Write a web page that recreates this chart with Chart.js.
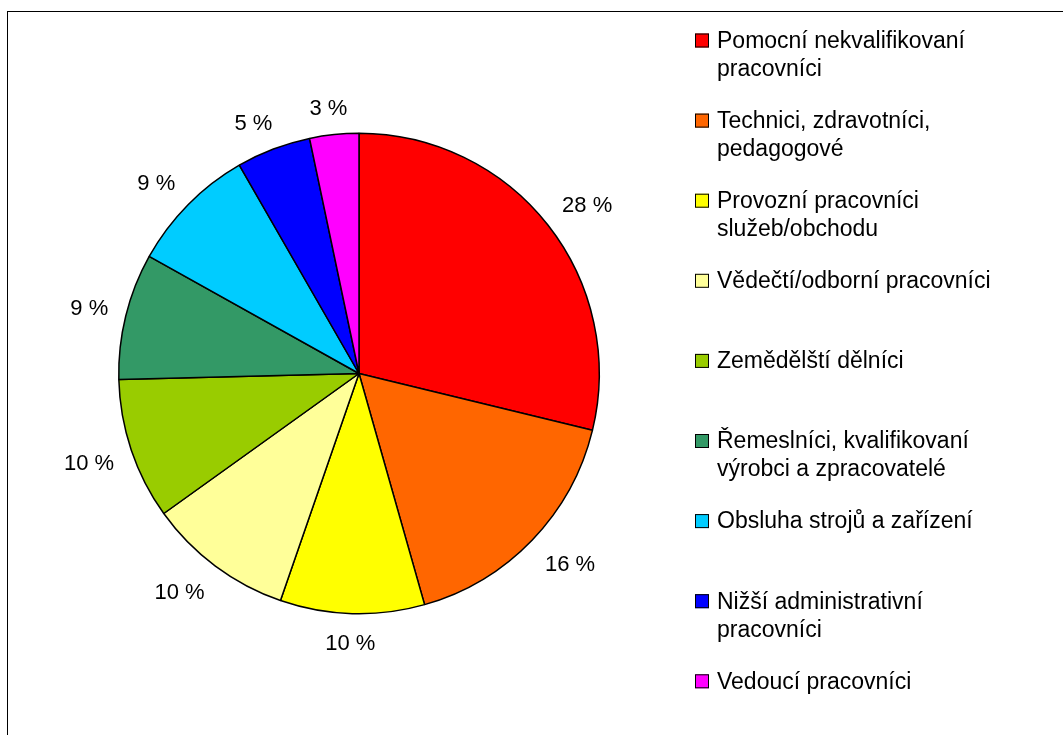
<!DOCTYPE html>
<html>
<head>
<meta charset="utf-8">
<title>Pracovníci</title>
<script src="https://cdn.jsdelivr.net/npm/chart.js@4.4.0/dist/chart.umd.min.js"></script>
<style>
	body{margin:0;background:#fff;}
	#wrap{width:1063px;height:735px;position:relative;}
</style>
</head>
<body>
<div id="wrap"><canvas id="chart"></canvas></div>
<script>
// kategorie (řádky legendy)
const categories = [
	['Pomocní nekvalifikovaní', 'pracovníci'],
	['Technici, zdravotníci,', 'pedagogové'],
	['Provozní pracovníci', 'služeb/obchodu'],
	['Vědečtí/odborní pracovníci'],
	['Zemědělští dělníci'],
	['Řemeslníci, kvalifikovaní', 'výrobci a zpracovatelé'],
	['Obsluha strojů a zařízení'],
	['Nižší administrativní', 'pracovníci'],
	['Vedoucí pracovníci']
];
// podíly odečtené z úhlů výsečí
const shares = [28.8, 16.8, 9.7, 9.8, 9.5, 8.5, 8.6, 5.0, 3.3];
// popisky tak, jak jsou v grafu
const percentLabels = [28, 16, 10, 10, 10, 9, 9, 5, 3];

const colors = ['#ff0000','#ff6600','#ffff00','#ffff99','#99cc00','#339966','#00ccff','#0000ff','#ff00ff'];
const FONT = '"Liberation Sans", Arial, sans-serif';

function clamp(v){
	return Math.max(-1, Math.min(1, v));
}

const framePlugin = {
	id:'frame',
	beforeDraw:function(chart){
		let ctx = chart.ctx;
		ctx.save();
		ctx.fillStyle = '#fff';
		ctx.fillRect(0, 0, chart.width, chart.height);
		ctx.strokeStyle = '#000';
		ctx.lineWidth = 1;
		ctx.strokeRect(7.5, 11.5, chart.width + 20, chart.height + 20);
		ctx.restore();
	}
};

const percentPlugin = {
	id:'percents',
	afterDatasetsDraw:function(chart){
		let ctx = chart.ctx;
		let meta = chart.getDatasetMeta(0);
		ctx.save();
		ctx.font = '22px ' + FONT;
		ctx.fillStyle = '#000';
		ctx.textAlign = 'center';
		ctx.textBaseline = 'middle';
		meta.data.forEach(function(arc, i){
			let mid = (arc.startAngle + arc.endAngle) / 2;
			let ux = Math.cos(mid), uy = Math.sin(mid);
			let text = percentLabels[i] + ' %';
			let w = ctx.measureText(text).width;
			let r = arc.outerRadius + 18;
			let x = arc.x + ux * r + clamp(ux * 2) * w / 2;
			let y = arc.y + uy * r + clamp(uy * 2) * 10;
			ctx.fillText(text, x, y + 2);
		});
		ctx.restore();
	}
};

const legendPlugin = {
	id:'sideLegend',
	afterDraw:function(chart){
		let ctx = chart.ctx;
		let bg = chart.data.datasets[0].backgroundColor;
		ctx.save();
		ctx.font = '23px ' + FONT;
		ctx.textBaseline = 'middle';
		ctx.textAlign = 'left';
		categories.forEach(function(lines, i){
			let y = 40.5 + i * 80.1;
			ctx.fillStyle = bg[i];
			ctx.fillRect(695, y - 7, 14, 14);
			ctx.strokeStyle = '#000';
			ctx.lineWidth = 1;
			ctx.strokeRect(695.5, y - 6.5, 13, 13);
			ctx.fillStyle = '#000';
			lines.forEach(function(line, j){
				ctx.fillText(line, 717, y + 1 + j * 28);
			});
		});
		ctx.restore();
	}
};

let dataChart = {
	labels: categories,
	datasets:[{
		data: shares,
		backgroundColor: colors,
		borderColor: '#000',
		borderWidth: 1.5
	}]
};

new Chart(document.getElementById('chart'), {
	type: 'pie',
	data: dataChart,
	options:{
		responsive: true,
		maintainAspectRatio: false,
		animation: false,
		layout:{
			padding:{left:118, top:132, right:463, bottom:120}
		},
		plugins:{
			legend:{display:false},
			tooltip:{enabled:false}
		}
	},
	plugins:[framePlugin, percentPlugin, legendPlugin]
});
</script>
</body>
</html>
